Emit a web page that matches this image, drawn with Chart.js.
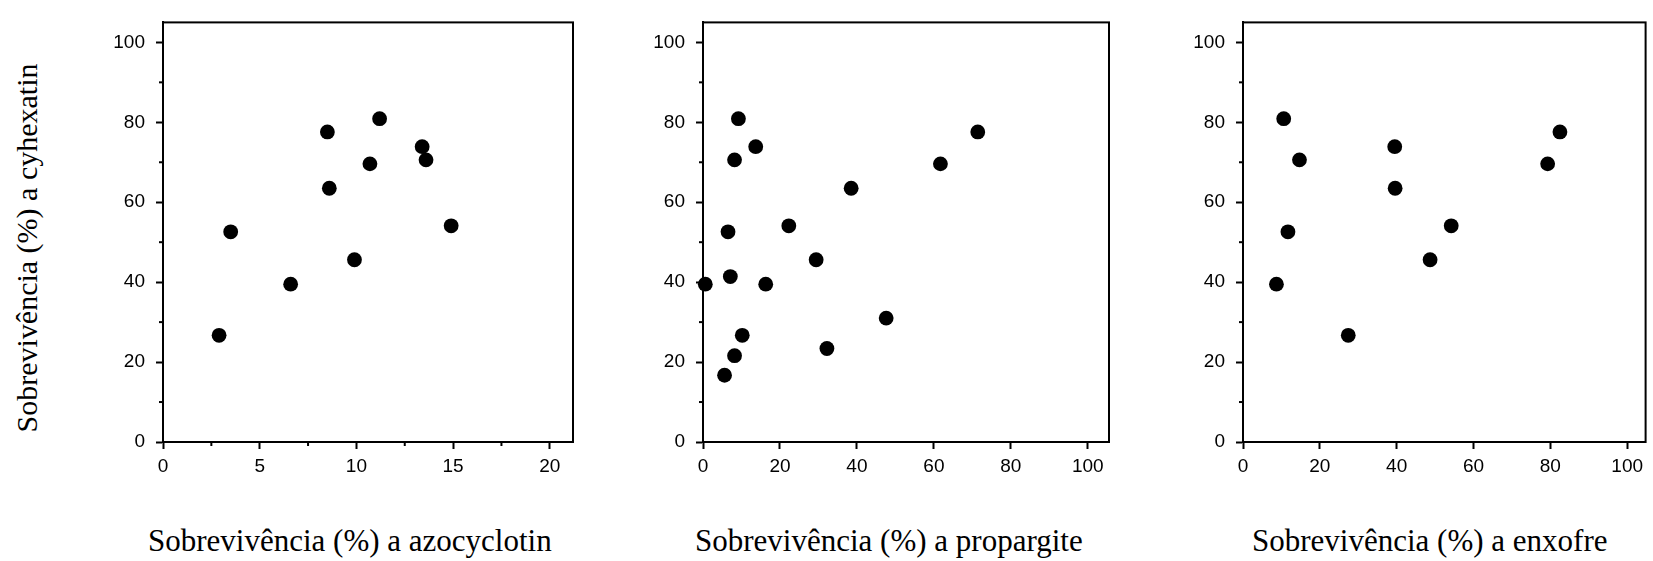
<!DOCTYPE html>
<html lang="pt">
<head>
<meta charset="utf-8">
<title>Sobrevivência cruzada</title>
<script src="https://cdn.jsdelivr.net/npm/chart.js@4.4.1/dist/chart.umd.min.js"></script>
<style>
    html, body { margin: 0; padding: 0; background: #fff; }
    body { width: 1653px; height: 561px; position: relative; overflow: hidden; }
    .painel { position: absolute; top: 0; height: 500px; }
    .titulo-x, .titulo-y {
        position: absolute;
        font-family: 'Liberation Serif', 'Times New Roman', serif;
        font-size: 31px;
        line-height: 1;
        white-space: nowrap;
        color: #000;
    }
    .titulo-x { top: 525px; }
    .titulo-y {
        font-size: 30px;
        left: 27px;
        top: 248px;
        transform: translate(-50%, -50%) rotate(-90deg);
    }
</style>
</head>
<body>

<div class="titulo-y">Sobrevivência (%) a cyhexatin</div>

<div class="painel" style="left:103px; width:480px;"><canvas id="chartAzo"></canvas></div>
<div class="painel" style="left:643px; width:476px;"><canvas id="chartProp"></canvas></div>
<div class="painel" style="left:1183px; width:470px;"><canvas id="chartEnx"></canvas></div>

<div class="titulo-x" style="left:148px;">Sobrevivência (%) a azocyclotin</div>
<div class="titulo-x" style="left:695px;">Sobrevivência (%) a propargite</div>
<div class="titulo-x" style="left:1252px;">Sobrevivência (%) a enxofre</div>

<script>
// ======== DADOS: sobrevivência (%) por população ========
// eixo Y comum: cyhexatin
const azoX  = [2.9, 3.5, 6.6, 8.5, 8.6, 9.9, 10.7, 11.2, 13.4, 13.6, 14.9];
const azoY  = [26.7, 52.6, 39.5, 77.6, 63.5, 45.6, 69.6, 80.9, 73.9, 70.6, 54.1];

const propX = [0.6, 5.6, 6.5, 7.1, 8.2, 8.2, 9.2, 10.2, 13.7, 16.3, 22.3, 29.4, 32.2, 38.5, 47.6, 61.7, 71.4];
const propY = [39.5, 16.7, 52.6, 41.4, 70.6, 21.6, 80.9, 26.7, 73.9, 39.5, 54.1, 45.6, 23.4, 63.5, 31.0, 69.6, 77.6];

const enxX  = [8.7, 10.6, 11.7, 14.7, 27.4, 39.5, 39.6, 48.7, 54.2, 79.3, 82.5];
const enxY  = [39.5, 80.9, 52.6, 70.6, 26.7, 73.9, 63.5, 45.6, 54.1, 69.6, 77.6];

// escalas (ticks)
const yMax = 105, yStep = 10, yMajor = 20;
const azoXMax = 21.2, azoXStep = 2.5, azoXMajor = 5;
const pctXStep = 20, pctXMajor = 20;

Chart.defaults.font.family = "'Liberation Sans', Arial, sans-serif";
Chart.defaults.font.size = 19;
Chart.defaults.color = '#000';

// moldura completa + tiques menores (sem rótulo)
const moldura = {
    id: 'moldura',
    beforeDatasetsDraw(chart) {
        const { ctx, chartArea: a, scales } = chart;
        ctx.save();
        ctx.strokeStyle = '#000';
        ctx.lineWidth = 2;
        ctx.strokeRect(a.left, a.top, a.right - a.left, a.bottom - a.top);

        scales.x.ticks.forEach(t => {
            if (t.label !== '') return;
            const px = scales.x.getPixelForValue(t.value);
            ctx.beginPath();
            ctx.moveTo(px, a.bottom);
            ctx.lineTo(px, a.bottom + 4);
            ctx.stroke();
        });
        scales.y.ticks.forEach(t => {
            if (t.label !== '') return;
            const py = scales.y.getPixelForValue(t.value);
            ctx.beginPath();
            ctx.moveTo(a.left - 4, py);
            ctx.lineTo(a.left, py);
            ctx.stroke();
        });
        ctx.restore();
    }
};

function criarPainel(id, xs, ys, xMax, xStep, xMajor, padRight) {
    const pontos = xs.map((x, i) => ({ x: x, y: ys[i] }));
    const isMajor = (v, m) => Math.abs(v / m - Math.round(v / m)) < 1e-6;

    return new Chart(document.getElementById(id), {
        type: 'scatter',
        data: {
            datasets: [{
                data: pontos,
                backgroundColor: '#000',
                borderWidth: 0,
                pointRadius: 7.4,
                pointHoverRadius: 7.4,
                clip: false
            }]
        },
        options: {
            responsive: true, maintainAspectRatio: false,
            animation: false,
            events: [],
            layout: { padding: { top: 9, right: padRight, left: 0, bottom: 0 } },
            plugins: { legend: { display: false }, tooltip: { enabled: false } },
            scales: {
                x: {
                    type: 'linear', min: 0, max: xMax,
                    afterFit: s => { s.height = 58; },
                    border: { color: '#000', width: 2 },
                    grid: {
                        drawOnChartArea: false, tickLength: 7, tickWidth: 2,
                        tickColor: c => (c.tick && !isMajor(c.tick.value, xMajor)) ? 'rgba(0,0,0,0)' : '#000'
                    },
                    ticks: {
                        stepSize: xStep, includeBounds: false, autoSkip: false, maxRotation: 0, padding: 6,
                        callback: v => isMajor(v, xMajor) ? String(v) : ''
                    }
                },
                y: {
                    type: 'linear', min: 0, max: yMax,
                    afterFit: s => { s.width = 60; },
                    border: { color: '#000', width: 2 },
                    grid: {
                        drawOnChartArea: false, tickLength: 7, tickWidth: 2,
                        tickColor: c => (c.tick && !isMajor(c.tick.value, yMajor)) ? 'rgba(0,0,0,0)' : '#000'
                    },
                    ticks: {
                        stepSize: yStep, includeBounds: false, autoSkip: false, padding: 11,
                        callback: v => isMajor(v, yMajor) ? String(v) : ''
                    }
                }
            }
        },
        plugins: [moldura]
    });
}

criarPainel('chartAzo', azoX, azoY, azoXMax, azoXStep, azoXMajor, 10);
criarPainel('chartProp', propX, propY, 105.5, pctXStep, pctXMajor, 10);
criarPainel('chartEnx', enxX, enxY, 104.8, pctXStep, pctXMajor, 6);
</script>
</body>
</html>
